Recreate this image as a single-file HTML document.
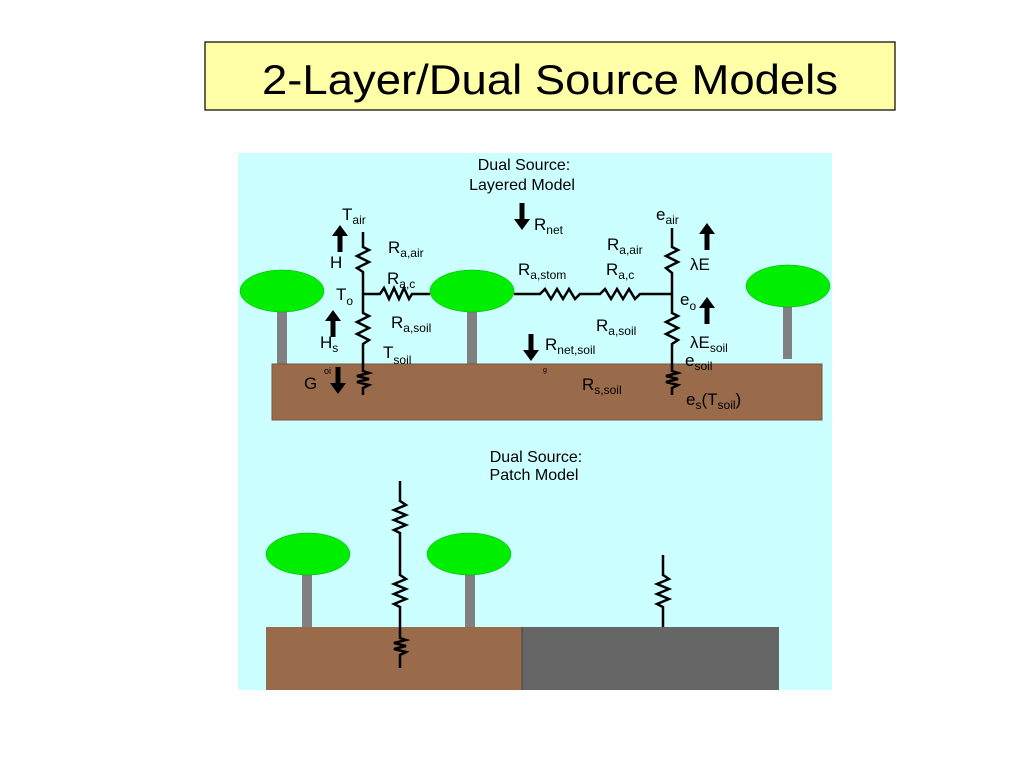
<!DOCTYPE html>
<html><head><meta charset="utf-8"><style>
html,body{margin:0;padding:0;background:#fff;width:1024px;height:768px;overflow:hidden}
svg text{font-family:"Liberation Sans",sans-serif;fill:#000}
</style></head><body>
<svg width="1024" height="768" viewBox="0 0 1024 768" xmlns="http://www.w3.org/2000/svg">
<defs>
<g id="up"><rect x="-2.5" y="9" width="5" height="18" fill="#000"/><polygon points="-8,11 8,11 0,0" fill="#000"/></g>
<g id="dn"><rect x="-2.5" y="0" width="5" height="18" fill="#000"/><polygon points="-8,16 8,16 0,27" fill="#000"/></g>
</defs>
<rect x="205" y="42" width="690" height="68" fill="#ffffa8" stroke="#000" stroke-width="1.2"/>
<text x="550" y="94" font-size="42" text-anchor="middle" textLength="576" lengthAdjust="spacingAndGlyphs">2-Layer/Dual Source Models</text>

<rect x="238" y="153" width="594" height="537" fill="#ccffff"/>
<text x="524" y="170" font-size="16" text-anchor="middle">Dual Source:</text>
<text x="522" y="190" font-size="16" text-anchor="middle">Layered Model</text>

<!-- top scene -->
<rect x="277" y="308" width="10" height="56" fill="#808080"/>
<rect x="467" y="308" width="10" height="56" fill="#808080"/>
<rect x="783" y="303" width="9" height="56" fill="#808080"/>
<rect x="272" y="364" width="550" height="56" fill="#996b4a" stroke="#7a5538" stroke-width="1"/>
<ellipse cx="282" cy="291" rx="42" ry="21" fill="#00ee00" stroke="#0a0" stroke-width="0.5"/>
<ellipse cx="472" cy="291" rx="42" ry="21" fill="#00ee00" stroke="#0a0" stroke-width="0.5"/>
<ellipse cx="788" cy="286" rx="42" ry="21" fill="#00ee00" stroke="#0a0" stroke-width="0.5"/>

<g fill="none" stroke="#000" stroke-width="2.5" stroke-linejoin="miter">
<polyline points="363,232 363,247 369,250 357,256 369,262 357,268 363,272 363,313 369,316 357,322 369,328 357,334 369,340 363,344 363,371 369,373 357,376 369,379 357,382 369,385 363,388 363,395"/>
<polyline points="363,294 380,294 384,288 389,299 394,288 399,299 404,288 409,299 412,294 430,294"/>
<polyline points="514,294 540,294 545,289 551,299 557,289 563,299 569,289 575,299 580,294 600,294 605,289 611,299 617,289 623,299 629,289 635,299 640,294 672,294"/>
<polyline points="672,228 672,247 678,250 666,256 678,262 666,268 672,273 672,313 678,316 666,322 678,328 666,334 678,340 672,344 672,371 678,373 666,376 678,379 666,382 678,385 672,388 672,395"/>
</g>

<use href="#up" x="340" y="225"/>
<use href="#up" x="333" y="310"/>
<use href="#dn" x="338" y="367"/>
<use href="#dn" x="522" y="203"/>
<use href="#dn" x="531" y="334"/>
<use href="#up" x="707" y="223"/>
<use href="#up" x="707" y="297"/>

<g font-size="17">
<text x="342" y="220">T<tspan font-size="12" dy="4">air</tspan></text>
<text x="330" y="268">H</text>
<text x="388" y="253">R<tspan font-size="12" dy="4">a,air</tspan></text>
<text x="387" y="284">R<tspan font-size="12" dy="4">a,c</tspan></text>
<text x="336" y="300">T<tspan font-size="12" dy="5">o</tspan></text>
<text x="391" y="328">R<tspan font-size="12" dy="4">a,soil</tspan></text>
<text x="320" y="348">H<tspan font-size="12" dy="4">s</tspan></text>
<text x="383" y="358">T<tspan font-size="12" dy="6">soil</tspan></text>
<text x="304" y="389">G</text>
<text x="324" y="374" font-size="9">oi</text>
<text x="534" y="230">R<tspan font-size="12" dy="4">net</tspan></text>
<text x="518" y="275">R<tspan font-size="12" dy="4">a,stom</tspan></text>
<text x="606" y="275">R<tspan font-size="12" dy="4">a,c</tspan></text>
<text x="607" y="250">R<tspan font-size="12" dy="4">a,air</tspan></text>
<text x="656" y="220">e<tspan font-size="12" dy="4">air</tspan></text>
<text x="690" y="270">λE</text>
<text x="680" y="305">e<tspan font-size="12" dy="5">o</tspan></text>
<text x="596" y="331">R<tspan font-size="12" dy="4">a,soil</tspan></text>
<text x="690" y="348">λE<tspan font-size="12" dy="4">soil</tspan></text>
<text x="545" y="350">R<tspan font-size="12" dy="4">net,soil</tspan></text>
<text x="685" y="366">e<tspan font-size="12" dy="4">soil</tspan></text>
<text x="582" y="390">R<tspan font-size="12" dy="4">s,soil</tspan></text>
<text x="686" y="405">e<tspan font-size="12" dy="4">s</tspan><tspan dy="-4">(T</tspan><tspan font-size="12" dy="4">soil</tspan><tspan dy="-4">)</tspan></text>
<text x="543" y="372" font-size="7">g</text>
</g>

<!-- bottom scene -->
<text x="536" y="462" font-size="16" text-anchor="middle">Dual Source:</text>
<text x="534" y="480" font-size="16" text-anchor="middle">Patch Model</text>
<rect x="266" y="627" width="256" height="63" fill="#996b4a"/>
<rect x="522" y="627" width="257" height="63" fill="#666666"/>
<line x1="522" y1="627" x2="522" y2="690" stroke="#444" stroke-width="1"/>
<rect x="302" y="574" width="10" height="53" fill="#808080"/>
<rect x="465" y="574" width="10" height="53" fill="#808080"/>
<ellipse cx="308" cy="554" rx="42" ry="21" fill="#00ee00" stroke="#0a0" stroke-width="0.5"/>
<ellipse cx="469" cy="554" rx="42" ry="21" fill="#00ee00" stroke="#0a0" stroke-width="0.5"/>
<g fill="none" stroke="#000" stroke-width="2.5">
<polyline points="400,481 400,501 406,505 394,510 406,515 394,520 406,525 394,530 400,533 400,575 406,579 394,584 406,589 394,594 406,599 394,604 400,607 400,638 406,640 394,643 406,646 394,649 406,652 400,655 400,668"/>
<polyline points="663,555 663,575 669,579 657,584 669,589 657,594 669,599 657,604 663,607 663,627"/>
</g>
</svg>
</body></html>
